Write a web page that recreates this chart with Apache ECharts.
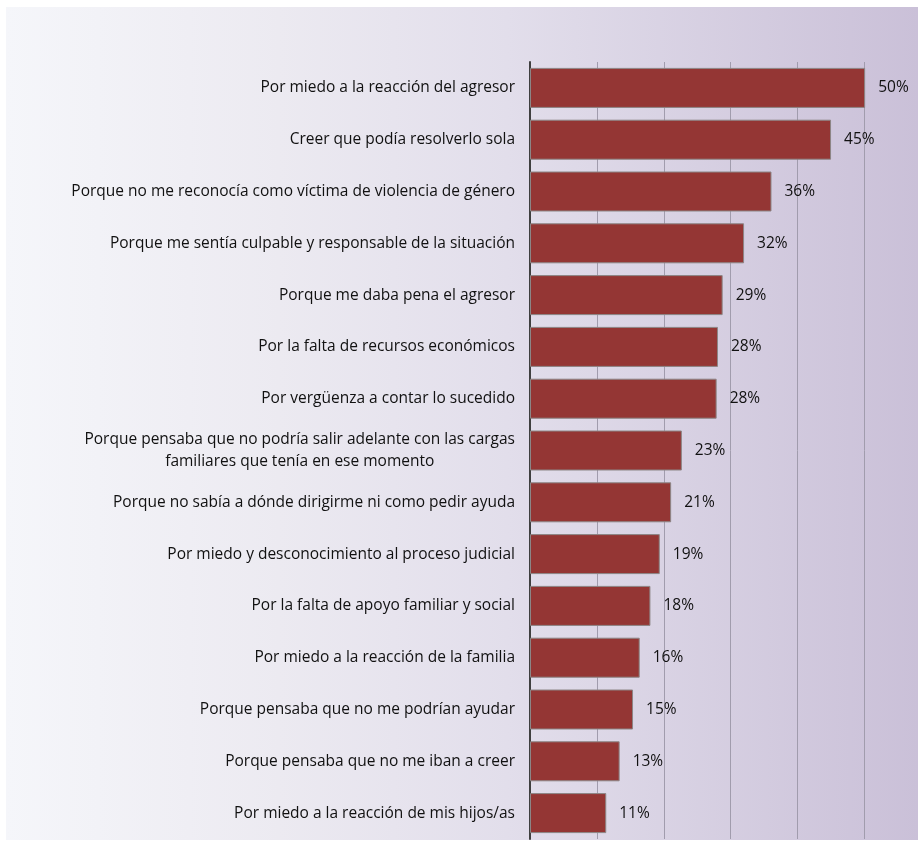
<!DOCTYPE html>
<html>
<head>
<meta charset="utf-8">
<script src="https://cdn.jsdelivr.net/npm/echarts@6/dist/echarts.min.js"></script>
<style>html,body{margin:0;padding:0;background:#fff;}#c{width:918px;height:841px;}</style>
</head>
<body>
<div id="c"></div>
<script>
var categories = [
  "Por miedo a la reacción del agresor",
  "Creer que podía resolverlo sola",
  "Porque no me reconocía como víctima de violencia de género",
  "Porque me sentía culpable y responsable de la situación",
  "Porque me daba pena el agresor",
  "Por la falta de recursos económicos",
  "Por vergüenza a contar lo sucedido",
  "Porque pensaba que no podría salir adelante con las cargas\nfamiliares que tenía en ese momento",
  "Porque no sabía a dónde dirigirme ni como pedir ayuda",
  "Por miedo y desconocimiento al proceso judicial",
  "Por la falta de apoyo familiar y social",
  "Por miedo a la reacción de la familia",
  "Porque pensaba que no me podrían ayudar",
  "Porque pensaba que no me iban a creer",
  "Por miedo a la reacción de mis hijos/as"
];
var values = [50.1, 45.0, 36.1, 32.0, 28.8, 28.1, 27.9, 22.7, 21.1, 19.4, 18.0, 16.4, 15.4, 13.4, 11.4];
var valueLabels = ["50%", "45%", "36%", "32%", "29%", "28%", "28%", "23%", "21%", "19%", "18%", "16%", "15%", "13%", "11%"];
var xMin = 0, xMax = 58, xStep = 10;

var FONT = "Open Sans";
var FS = 15.5;
var chart = echarts.init(document.getElementById('c'), null, {renderer: 'canvas'});
chart.setOption({
  backgroundColor: '#ffffff',
  animation: false,
  graphic: [{
    type: 'rect', z: -10, silent: true,
    shape: {x: 6, y: 7, width: 912, height: 833},
    style: {
      fill: new echarts.graphic.LinearGradient(0, 0, 1, 0, [
        {offset: 0, color: '#f5f6fa'},
        {offset: 0.3, color: '#eceaf1'},
        {offset: 0.55, color: '#e2deeb'},
        {offset: 1, color: '#cac0d8'}
      ])
    }
  }],
  grid: {left: 530, right: 0, top: 62, bottom: 2, containLabel: false},
  xAxis: {
    type: 'value', min: xMin, max: xMax, interval: xStep,
    axisLine: {show: false}, axisTick: {show: false}, axisLabel: {show: false},
    splitLine: {show: true, lineStyle: {color: '#a19cad', width: 1}}
  },
  yAxis: {
    type: 'category', inverse: true, data: categories,
    axisLine: {show: true, lineStyle: {color: '#3f3f3f', width: 2}},
    axisTick: {show: false},
    axisLabel: {
      margin: 15, color: '#111111', fontFamily: FONT, fontSize: FS,
      formatter: function (v) {
        return v.split('\n').map(function (l) { return '{c|' + l + '}'; }).join('\n');
      },
      rich: {c: {align: 'center', fontFamily: FONT, fontSize: FS, color: '#111111', lineHeight: 22}}
    },
    splitLine: {show: false}
  },
  series: [{
    type: 'bar', data: values, barWidth: 40,
    itemStyle: {color: '#943634', borderColor: '#8c8686', borderWidth: 1},
    label: {
      show: true, position: 'right', distance: 13,
      fontFamily: FONT, fontSize: FS, color: '#111111',
      formatter: function (p) { return valueLabels[p.dataIndex]; }
    }
  }]
});
</script>
</body>
</html>
